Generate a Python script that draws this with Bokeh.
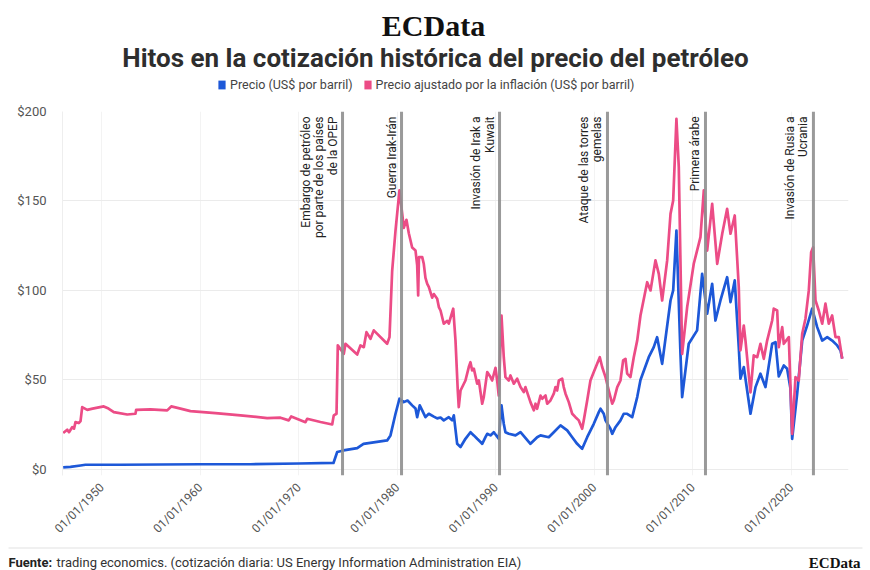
import math
from bokeh.plotting import figure
from bokeh.layouts import column
from bokeh.models import (ColumnDataSource, FixedTicker, Span, Label, Legend,
                          LegendItem, BoxAnnotation, Range1d)
from bokeh.core.properties import value
from bokeh.embed import file_html
from bokeh.resources import INLINE

# ---------------- data ----------------
real_year = [1946.06, 1946.47, 1946.65, 1946.97, 1947.16, 1947.31, 1947.64, 1947.82, 1947.99,
             1948.50, 1949.04, 1950.18, 1950.66, 1951.20, 1952.56, 1953.40, 1953.47, 1954.92,
             1956.62, 1957.03, 1957.97, 1958.98, 1961.52, 1964.06, 1966.77, 1968.12, 1968.96,
             1969.21, 1970.66, 1970.83, 1972.18, 1973.37, 1973.53, 1973.81, 1973.94, 1974.55,
             1974.72, 1975.91, 1976.24, 1976.58, 1976.85, 1977.26, 1977.59, 1978.95, 1979.19,
             1979.46, 1979.80, 1980.20, 1980.48, 1980.64, 1980.91, 1981.15, 1981.49, 1981.83,
             1982.00, 1982.10, 1982.18, 1982.51, 1982.67, 1982.84, 1983.02, 1983.18, 1983.52,
             1983.69, 1984.03, 1984.20, 1984.37, 1984.70, 1985.05, 1985.21, 1985.66, 1985.89,
             1986.12, 1986.22, 1986.40, 1986.90, 1987.24, 1987.41, 1987.58, 1987.75, 1988.09,
             1988.26, 1988.60, 1988.76, 1989.11, 1989.44, 1989.61, 1989.95, 1990.12, 1990.28,
             1990.56, 1990.79, 1990.96, 1991.30, 1991.47, 1991.81, 1992.15, 1992.49, 1992.82,
             1992.99, 1993.33, 1993.50, 1993.84, 1994.01, 1994.18, 1994.52, 1994.69, 1995.03,
             1995.20, 1995.53, 1995.87, 1996.04, 1996.21, 1996.38, 1996.72, 1996.88, 1997.06,
             1997.39, 1997.74, 1998.07, 1998.41, 1998.75, 1998.91, 1999.26, 1999.59, 1999.93,
             2000.27, 2000.54, 2000.78, 2001.12, 2001.45, 2001.80, 2001.96, 2002.31, 2002.64,
             2002.91, 2003.15, 2003.32, 2003.65, 2003.99, 2004.34, 2004.67, 2005.35, 2005.69,
             2006.19, 2006.53, 2006.87, 2007.38, 2007.72, 2007.99, 2008.32, 2008.56, 2008.80,
             2008.90, 2009.41, 2010.08, 2010.76, 2011.10, 2011.44, 2011.95, 2012.46, 2012.97,
             2013.47, 2013.81, 2014.24, 2014.65, 2014.82, 2015.16, 2015.33, 2015.84, 2016.17,
             2016.52, 2016.85, 2017.19, 2017.53, 2018.04, 2018.20, 2018.55, 2018.71, 2019.06,
             2019.22, 2019.73, 2019.90, 2020.07, 2020.41, 2020.74, 2021.09, 2021.42, 2021.76,
             2022.00, 2022.20, 2022.44, 2022.77, 2023.12, 2023.45, 2023.79, 2024.13, 2024.47,
             2024.81, 2025.15]
real_price = [20.3, 22.2, 20.8, 23.6, 22.8, 26.4, 25.9, 27.0, 34.8,
              33.3, 34.0, 35.2, 34.0, 32.0, 30.7, 31.1, 33.3, 33.6,
              33.0, 35.2, 34.0, 32.6, 31.5, 30.2, 28.7, 28.9, 27.4,
              29.6, 26.4, 28.3, 26.5, 25.1, 30.2, 31.1, 69.3, 64.6,
              70.2, 64.2, 69.3, 68.3, 76.7, 73.0, 77.7, 70.2, 73.9,
              111.0, 133.5, 155.9, 142.8, 135.0, 139.5, 132.0, 124.0, 122.3,
              114.0, 97.2, 118.6, 118.6, 114.9, 107.0, 103.7, 102.0, 96.0,
              98.0, 95.4, 90.7, 88.8, 81.4, 83.0, 81.5, 89.8, 72.0,
              44.1, 34.8, 44.1, 49.7, 57.2, 59.9, 55.3, 56.3, 47.9,
              49.7, 36.7, 40.4, 54.4, 51.6, 49.7, 56.8, 49.7, 41.3,
              86.0, 62.7, 51.6, 49.7, 52.5, 47.9, 50.7, 46.0, 43.2,
              46.0, 40.4, 37.6, 33.0, 36.7, 33.9, 41.3, 39.5, 41.3,
              36.7, 38.5, 42.3, 46.0, 44.1, 49.7, 50.7, 46.0, 42.3,
              37.6, 31.1, 29.2, 27.4, 22.7, 27.4, 38.5, 49.7, 54.4,
              59.0, 62.7, 57.2, 51.6, 44.1, 36.7, 38.5, 46.0, 49.7,
              60.9, 61.8, 53.5, 51.6, 62.7, 72.1, 86.0, 104.6, 100.0,
              116.8, 109.3, 94.4, 116.8, 142.8, 150.3, 195.9, 168.9, 94.4,
              64.6, 90.7, 114.9, 129.8, 155.9, 122.3, 148.4, 114.9, 131.7,
              145.6, 131.7, 141.9, 101.8, 66.5, 80.4, 72.0, 43.0, 63.7,
              62.7, 70.2, 61.8, 72.0, 83.2, 89.8, 88.8, 68.3, 79.5,
              70.2, 73.9, 46.0, 19.9, 51.6, 49.7, 75.8, 84.2, 100.0,
              121.4, 124.2, 94.4, 88.8, 81.4, 92.6, 81.4, 86.0, 73.9,
              73.9, 61.8]

nominal_year = [1946.06, 1946.80, 1947.82, 1948.32, 1951.88, 1960.00, 1965.08, 1970.00, 1973.50,
                1973.88, 1974.52, 1975.91, 1976.55, 1978.95, 1979.29, 1979.80, 1980.20, 1980.64,
                1981.02, 1981.49, 1981.83, 1982.00, 1982.26, 1982.51, 1982.84, 1983.18, 1983.69,
                1984.03, 1984.37, 1984.70, 1985.21, 1985.55, 1985.72, 1986.06, 1986.40, 1986.90,
                1987.41, 1987.75, 1988.09, 1988.43, 1988.60, 1988.93, 1989.11, 1989.44, 1989.78,
                1990.28, 1990.56, 1990.79, 1990.96, 1991.30, 1991.98, 1992.49, 1993.50, 1994.18,
                1994.52, 1995.36, 1995.87, 1996.55, 1997.23, 1997.74, 1998.24, 1998.75, 1999.26,
                1999.93, 2000.44, 2000.61, 2000.94, 2001.12, 2001.62, 2001.80, 2002.13, 2002.64,
                2002.97, 2003.32, 2003.83, 2004.34, 2004.67, 2005.51, 2006.02, 2006.36, 2006.87,
                2007.72, 2007.99, 2008.32, 2008.73, 2008.90, 2009.57, 2010.42, 2010.93, 2011.44,
                2011.95, 2012.28, 2012.79, 2013.47, 2013.81, 2014.24, 2014.65, 2014.82, 2015.16,
                2015.84, 2016.35, 2016.85, 2017.36, 2018.04, 2018.38, 2018.71, 2019.22, 2019.56,
                2019.90, 2020.07, 2020.58, 2021.09, 2021.59, 2022.10, 2022.61, 2023.12, 2023.63,
                2024.13, 2024.64, 2024.98, 2025.15]
nominal_price = [1.1, 1.4, 2.2, 2.6, 2.6, 2.9, 2.9, 3.3, 3.6,
                 9.7, 10.6, 11.9, 14.3, 16.2, 19.0, 31.1, 39.5, 37.6,
                 38.5, 35.8, 34.0, 29.2, 35.8, 33.0, 29.2, 31.1, 29.5,
                 28.5, 29.0, 27.4, 29.2, 27.4, 30.2, 14.3, 12.5, 17.1,
                 20.8, 19.0, 17.1, 15.3, 14.3, 18.0, 19.9, 19.0, 20.8,
                 17.1, 35.8, 25.5, 20.8, 19.9, 19.0, 20.8, 14.3, 18.0,
                 19.0, 18.0, 20.8, 24.6, 21.8, 18.0, 14.3, 11.5, 18.0,
                 25.5, 32.0, 33.9, 31.1, 27.4, 22.7, 19.9, 23.6, 27.4,
                 31.1, 31.1, 29.2, 40.4, 50.0, 62.7, 68.3, 73.9, 59.0,
                 94.4, 100.0, 133.5, 64.6, 40.4, 70.2, 77.7, 109.3, 87.0,
                 103.7, 83.2, 94.4, 107.4, 93.5, 105.6, 68.3, 50.7, 57.2,
                 31.1, 46.0, 53.5, 46.0, 70.2, 71.1, 52.0, 58.1, 56.3,
                 45.0, 17.1, 42.3, 72.0, 80.4, 89.8, 79.5, 72.0, 73.9,
                 72.0, 69.3, 66.5, 62.0]

event_names = ["Embargo de petróleo\npor parte de los países\nde la OPEP",
               "Guerra Irak-Irán",
               "Invasión de Irak a\nKuwait",
               "Ataque de las torres\ngemelas",
               "Primera árabe",
               "Invasión de Rusia a\nUcrania"]
event_year = [1974.42, 1980.41, 1990.36, 2001.32, 2011.27, 2022.23]

tick_years = [1950, 1960, 1970, 1980, 1990, 2000, 2010, 2020]
tick_labels = ["01/01/1950", "01/01/1960", "01/01/1970", "01/01/1980",
               "01/01/1990", "01/01/2000", "01/01/2010", "01/01/2020"]
y_ticks = [0, 50, 100, 150, 200]
y_tick_labels = ["$0", "$50", "$100", "$150", "$200"]

series_names = ["Precio (US$ por barril)",
                "Precio ajustado por la inflación (US$ por barril)"]

BLUE = "#1d58d8"
PINK = "#ec4c86"
FONT = "Roboto"
W = 870
HEAD_H, MAIN_H, FOOT_H = 100, 446, 24


def blank(h):
    f = figure(width=W, height=h, x_range=Range1d(0, W), y_range=Range1d(h, 0),
               output_backend="svg", toolbar_location=None,
               x_axis_location=None, y_axis_location=None,
               min_border=0, min_border_left=0, min_border_right=0,
               min_border_top=0, min_border_bottom=0)
    f.outline_line_color = None
    f.xgrid.visible = False
    f.ygrid.visible = False
    f.background_fill_color = "white"
    f.border_fill_color = "white"
    return f


# ---------------- header ----------------
head = blank(HEAD_H)
head.add_layout(Label(x=433, y=25, text="ECData", text_font="Liberation Serif",
                      text_font_style="bold", text_font_size="30px", text_color="#111111",
                      text_align="center", text_baseline="alphabetic"))
head.add_layout(Label(x=435, y=57, text="Hitos en la cotización histórica del precio del petróleo",
                      text_font=FONT, text_font_style="bold", text_font_size="26px",
                      text_color="#2e2e2e", text_align="center", text_baseline="alphabetic"))
# zero-size swatch renderers used only for the legend glyphs
q1 = head.quad(left=[0], right=[0], top=[0], bottom=[0], fill_color=BLUE, line_color=None)
q2 = head.quad(left=[0], right=[0], top=[0], bottom=[0], fill_color=PINK, line_color=None)
legend = Legend(items=[LegendItem(label=series_names[0], renderers=[q1], index=0),
                       LegendItem(label=series_names[1], renderers=[q2], index=0)],
                orientation="horizontal", location=(217, 8),
                glyph_width=9, glyph_height=11, label_standoff=4, spacing=10,
                padding=0, margin=0, border_line_color=None,
                background_fill_alpha=0, label_text_font=FONT,
                label_text_font_size="12.5px", label_text_color="#444444")
head.add_layout(legend, "center")

# ---------------- main chart ----------------
p = figure(width=W, height=MAIN_H, x_range=(1945.99, 2025.79), y_range=(-3.4, 200),
           output_backend="svg", toolbar_location=None,
           min_border_left=62, min_border_right=22,
           min_border_top=11, min_border_bottom=71)
p.outline_line_color = None
p.background_fill_color = "white"
p.border_fill_color = "white"

p.xaxis.ticker = FixedTicker(ticks=tick_years)
p.xaxis.major_label_overrides = {t: l for t, l in zip(tick_years, tick_labels)}
p.xaxis.major_label_orientation = math.pi / 4
p.xaxis.axis_line_color = None
p.xaxis.major_tick_line_color = None
p.xaxis.minor_tick_line_color = None
p.xaxis.major_label_text_font = FONT
p.xaxis.major_label_text_font_size = "12px"
p.xaxis.major_label_text_color = "#555555"
p.xaxis.major_label_standoff = 4

p.yaxis.ticker = FixedTicker(ticks=y_ticks)
p.yaxis.major_label_overrides = {t: l for t, l in zip(y_ticks, y_tick_labels)}
p.yaxis.axis_line_color = "#eeeeee"
p.yaxis.major_tick_line_color = None
p.yaxis.minor_tick_line_color = None
p.yaxis.major_label_text_font = FONT
p.yaxis.major_label_text_font_size = "13px"
p.yaxis.major_label_text_color = "#555555"
p.yaxis.major_label_standoff = 10

p.ygrid.grid_line_color = "#ebebeb"
p.xgrid.grid_line_color = "#f3f3f3"

src_nom = ColumnDataSource(dict(x=nominal_year, y=nominal_price))
src_real = ColumnDataSource(dict(x=real_year, y=real_price))
p.line("x", "y", source=src_nom, line_color=BLUE, line_width=2.7, line_join="round")
p.line("x", "y", source=src_real, line_color=PINK, line_width=2.7, line_join="round")

for yr in event_year:
    p.add_layout(Span(location=yr, dimension="height", line_color="#8f8f8f",
                      line_width=3, line_alpha=0.9))
src_ev = ColumnDataSource(dict(x=event_year, y=[200] * len(event_year), t=event_names))
p.text("x", "y", text="t", source=src_ev, angle=math.pi / 2,
       text_align="right", text_baseline="bottom", x_offset=-3, y_offset=5,
       text_font=value(FONT), text_font_size="12px", text_color="#222222",
       text_line_height=0.95)

# ---------------- footer ----------------
foot = blank(FOOT_H)
foot.add_layout(BoxAnnotation(left=8, right=862, top=1, bottom=2,
                              fill_color="#e2e2e2", fill_alpha=1, line_color=None))
foot.add_layout(Label(x=8, y=16, text="Fuente:", text_font=FONT, text_font_style="bold",
                      text_font_size="13px", text_color="#222222",
                      text_baseline="alphabetic"))
foot.add_layout(Label(x=56, y=16,
                      text="trading economics. (cotización diaria: US Energy Information Administration EIA)",
                      text_font=FONT, text_font_size="13px", text_color="#333333",
                      text_baseline="alphabetic"))
foot.add_layout(Label(x=860, y=16, text="ECData", text_font="Liberation Serif",
                      text_font_style="bold", text_font_size="15px", text_color="#111111",
                      text_align="right", text_baseline="alphabetic"))

layout = column(head, column(p, spacing=0), foot, spacing=0)
open("out.html", "w").write(file_html(layout, INLINE))
